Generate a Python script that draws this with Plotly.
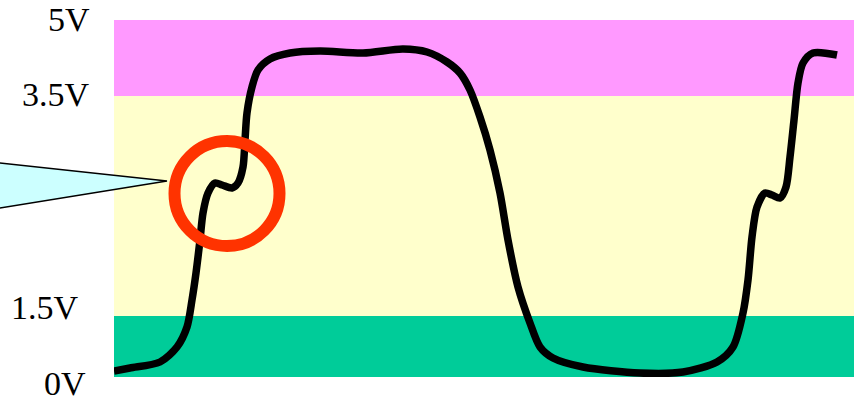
import plotly.graph_objects as go

# Waveform samples: time (arbitrary units) and displayed level (chart units)
time = [0, 16, 46, 63, 73, 78, 82, 86, 89, 94, 101, 108, 118, 124, 129, 131, 133, 138,
        144, 156, 176, 206, 249, 289, 313, 333, 346, 356, 366, 376, 386, 394, 404, 416,
        426, 439, 469, 526, 569, 603, 619, 629, 634, 638, 643, 651, 658, 666, 672, 676,
        680, 684, 689, 699, 723]
level = [6, 9, 15, 30, 50, 77, 104, 137, 164, 184, 194, 192, 189, 194, 210, 237, 264, 290,
         307, 318, 324, 326, 324, 328, 325, 315, 304, 287, 260, 227, 184, 137, 90, 54,
         30, 19, 10, 4, 5, 15, 30, 64, 97, 140, 170, 184, 182, 179, 190, 220,
         257, 294, 314, 324, 322]

# Voltage bands (display levels of boundaries) and labels
band_low = [0, 61, 281]
band_high = [61, 281, 357]
band_colors = ["#00CC99", "#FFFFCC", "#FF99FF"]
tick_labels = ["0V", "1.5V", "3.5V", "5V"]
tick_label_levels = [-6, 70, 282.5, 357.5]
tick_label_right_px = [88, 81, 92, 92]

W, H = 854, 401
L, R, T, B = 114, 0, 20, 24
PW, PH = W - L - R, H - T - B


def px(xp):
    return (xp - L) / PW


def py(yp):
    return (H - B - yp) / PH


fig = go.Figure()
fig.add_trace(go.Scatter(x=time, y=level, mode="lines",
                         line=dict(color="black", width=7.5, shape="spline", smoothing=0.8),
                         hoverinfo="skip", showlegend=False))

shapes = []
for lo, hi, c in zip(band_low, band_high, band_colors):
    shapes.append(dict(type="rect", xref="paper", yref="y", x0=0, x1=1, y0=lo, y1=hi,
                       fillcolor=c, line=dict(width=0), layer="below"))

# callout triangle
tri = [(-20, 160.8), (167, 181), (-20, 211.2)]
path = "M " + " L ".join(f"{px(a):.5f},{py(b):.5f}" for a, b in tri) + " Z"
shapes.append(dict(type="path", xref="paper", yref="paper", path=path,
                   fillcolor="#CCFFFF", line=dict(color="black", width=1.5), layer="above"))

# red circle
cx, cy, r = 227, 193.5, 52.5
shapes.append(dict(type="circle", xref="paper", yref="paper",
                   x0=px(cx - r), x1=px(cx + r), y0=py(cy + r), y1=py(cy - r),
                   line=dict(color="#FF3300", width=12), fillcolor="rgba(0,0,0,0)", layer="above"))

annotations = []
for t, lv, rx in zip(tick_labels, tick_label_levels, tick_label_right_px):
    annotations.append(dict(text=t, xref="paper", yref="paper", x=px(rx), y=lv / PH,
                            xanchor="right", yanchor="middle", showarrow=False,
                            font=dict(family="Liberation Serif, Times New Roman, serif",
                                      size=34, color="black")))

fig.update_layout(
    width=W, height=H,
    margin=dict(l=L, r=R, t=T, b=B),
    paper_bgcolor="white", plot_bgcolor="white",
    shapes=shapes, annotations=annotations,
    xaxis=dict(range=[0, PW], visible=False, fixedrange=True),
    yaxis=dict(range=[0, PH], visible=False, fixedrange=True),
)

fig.write_html("out.html", config={"displayModeBar": False},
               post_script="document.body.style.margin='0';")
